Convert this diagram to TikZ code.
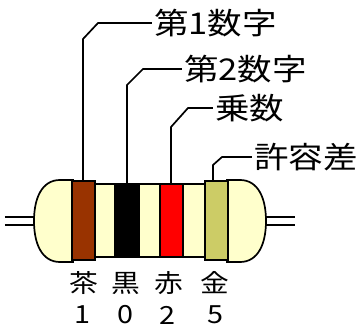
\documentclass[tikz,border=0pt]{standalone}
\usepackage{fontspec}
\newfontfamily\jp[FakeStretch=1.15]{Noto Sans CJK JP}
\definecolor{cream}{HTML}{FFFFCC}
\definecolor{brownband}{HTML}{993300}
\definecolor{redband}{HTML}{FF0000}
\definecolor{goldband}{HTML}{CCCC66}
\begin{document}
\begin{tikzpicture}[x=1pt,y=-1pt,
    band/.style ={draw, line width=1.7pt},
    lead/.style ={line width=1.7pt},
    callout/.style ={line width=1.7pt},
    partname/.style ={font=\jp\fontsize{30}{30}\selectfont, inner sep=2pt, anchor=west},
    bandname/.style ={font=\jp\fontsize{25}{25}\selectfont, inner sep=0pt}]
   \useasboundingbox[fill=white] (0,0) rectangle (360,333);
   % leads
   \draw[lead] (5,217) -- (34,217);
   \draw[lead] (5,225) -- (34,225);
   \draw[lead] (266,217) -- (295,217);
   \draw[lead] (266,225) -- (295,225);
   % end caps
   \draw[band, fill=cream] (73,180) -- (60,180) .. controls (42,180) and (34,198) .. (34,221)
      .. controls (34,244) and (42,262) .. (60,262) -- (73,262) -- cycle;
   \draw[band, fill=cream] (227,180) -- (240,180) .. controls (258,180) and (266,198) .. (266,221)
      .. controls (266,244) and (258,262) .. (240,262) -- (227,262) -- cycle;
   % body and bands
   \draw[band, fill=cream] (95,184) rectangle (205,257);
   \draw[band, fill=brownband] (72,181) rectangle (95,260);
   \draw[band, fill=black] (115,184) rectangle (139,257);
   \draw[band, fill=redband] (160,184) rectangle (183,257);
   \draw[band, fill=goldband] (205,181) rectangle (228,260);
   % where the callouts leave the bands
   \coordinate (b1) at (83,181);
   \coordinate (b2) at (127,184);
   \coordinate (b3) at (171,184);
   \coordinate (b4) at (213,181);
   % band meanings
   \node[partname] (p1) at (152,23)  {第1数字};
   \node[partname] (p2) at (182,69)  {第2数字};
   \node[partname] (p3) at (213,108) {乗数};
   \node[partname] (p4) at (252,157) {許容差};
   \draw[callout] (b1) -- (83,39)  -- (98,23)  -- (p1.west);
   \draw[callout] (b2) -- (127,85) -- (143,69) -- (p2.west);
   \draw[callout] (b3) -- (171,127) -- (188,108) -- (p3.west);
   \draw[callout] (b4) -- (213,165) -- (222,157) -- (p4.west);
   % colour names and values
   \node[bandname] (c1) at (84,283)  {茶};
   \node[bandname] (c2) at (126,283) {黒};
   \node[bandname] (c3) at (169,283) {赤};
   \node[bandname] (c4) at (215,283) {金};
   \node[bandname] (d1) at (82,315)  {1};
   \node[bandname] (d2) at (125,315) {0};
   \node[bandname] (d3) at (167,315) {2};
   \node[bandname] (d4) at (215,315) {5};
 \end{tikzpicture}
\end{document}
